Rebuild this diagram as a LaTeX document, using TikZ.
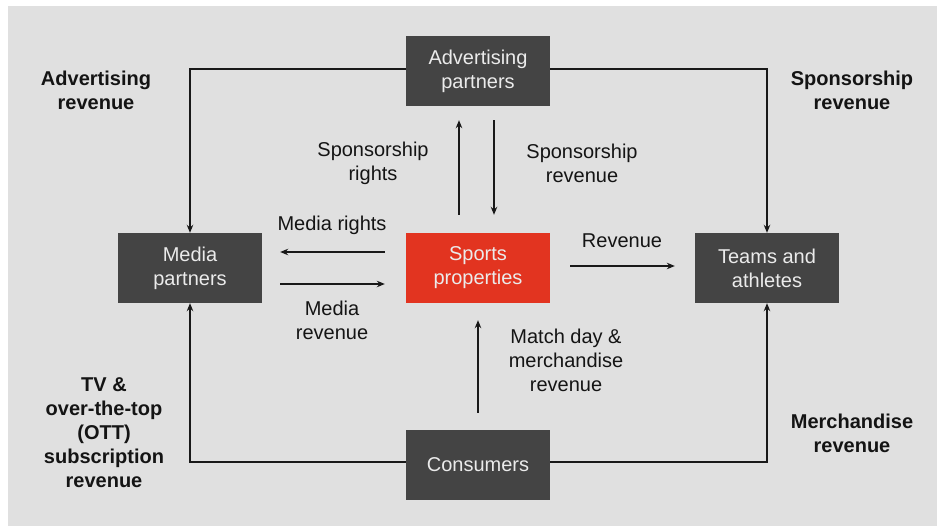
\documentclass[tikz,border=0pt]{standalone}
\usepackage{fontspec}
\setmainfont{Liberation Sans}
\usetikzlibrary{arrows.meta}
\definecolor{bggray}{RGB}{224,224,224}
\definecolor{boxgray}{RGB}{68,68,68}
\definecolor{sportsred}{RGB}{226,52,32}
\tikzset{
  box/.style={fill=boxgray, text=white!92!black, minimum width=144pt, minimum height=70pt,
    inner sep=0pt, align=center, font=\fontsize{20}{24}\selectfont},
  lbl/.style={align=center, text=black!92, font=\fontsize{20}{24}\selectfont},
  blbl/.style={lbl, font=\fontsize{20}{24}\selectfont\bfseries},
  arr/.style={-{Stealth[length=8pt,width=6.5pt]}, line width=1.3pt, draw=black!90},
  frame/.style={line width=1.3pt, draw=black!85}
}
\begin{document}
\begin{tikzpicture}[x=1pt,y=-1pt]
  \useasboundingbox (0,0) rectangle (937,526);
  \fill[bggray] (8,6) rectangle (937,526); % background

  % boxes
  \node[box] (adv) at (478,71) {Advertising\\partners};
  \node[box] (media) at (190,268) {Media\\partners};
  \node[box, fill=sportsred] (sports) at (478,268) {Sports\\properties};
  \node[box] (teams) at (767,268) {Teams and\\athletes};
  \node[box] (cons) at (478,465) {Consumers};

  % outer frame
  \draw[arr] ([yshift=2pt]adv.west) -| (media.north);
  \draw[arr] ([yshift=2pt]adv.east) -| (teams.north);
  \draw[arr] ([yshift=3pt]cons.west) -| (media.south);
  \draw[arr] ([yshift=3pt]cons.east) -| (teams.south);

  % inner arrows
  \draw[arr] ([xshift=-19pt,yshift=18pt]sports.north) -- ([xshift=-19pt,yshift=-14pt]adv.south);
  \draw[arr] ([xshift=16pt,yshift=-14pt]adv.south) -- ([xshift=16pt,yshift=18pt]sports.north);
  \draw[arr, shorten <=21pt, shorten >=18pt] ([yshift=16pt]sports.west) -- ([yshift=16pt]media.east);
  \draw[arr, shorten <=18pt, shorten >=21pt] ([yshift=-16pt]media.east) -- ([yshift=-16pt]sports.west);
  \draw[arr, shorten <=20pt, shorten >=20pt] ([yshift=2pt]sports.east) -- ([yshift=2pt]teams.west);
  \draw[arr, shorten <=17pt, shorten >=17pt] (cons.north) -- (sports.south);

  % labels
  \node[lbl] (srights) at (373,163) {Sponsorship\\rights};
  \node[lbl] (srev) at (582,163) {Sponsorship\\revenue};
  \node[lbl] (mrights) at (332,225) {Media rights};
  \node[lbl] (mrev) at (332,320) {Media\\revenue};
  \node[lbl] (rev) at (622,241) {Revenue};
  \node[lbl] (match) at (566,360) {Match day \&\\merchandise\\revenue};

  % outer labels
  \node[blbl] (advrev) at (96,90) {Advertising\\revenue};
  \node[blbl] (sponrev) at (852,90) {Sponsorship\\revenue};
  \node[blbl] (ottrev) at (104,433) {TV \&\\over-the-top\\(OTT)\\subscription\\revenue};
  \node[blbl] (merchrev) at (852,433) {Merchandise\\revenue};
\end{tikzpicture}
\end{document}
